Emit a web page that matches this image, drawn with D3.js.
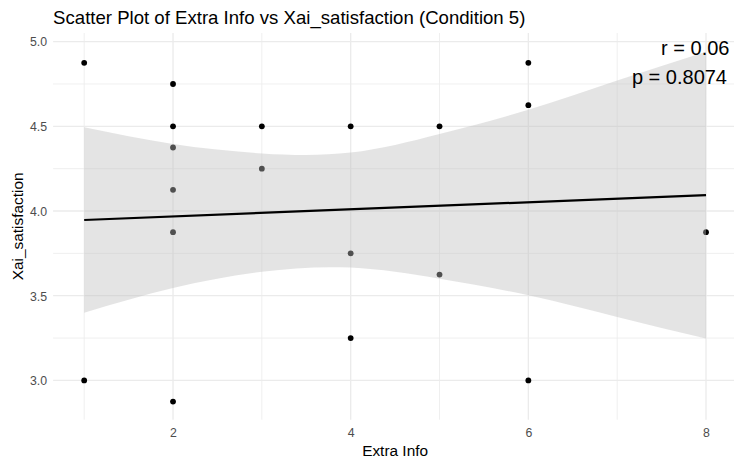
<!DOCTYPE html>
<html>
<head>
<meta charset="utf-8">
<script src="https://cdn.jsdelivr.net/npm/d3@7"></script>
<style>
  html, body { margin: 0; padding: 0; background: #fff; }
  svg { display: block; font-family: "Liberation Sans", Arial, sans-serif; }
</style>
</head>
<body>
<svg id="chart" width="734" height="464"></svg>
<script>
// ---- data ----
const extraInfo    = [1, 1, 2, 2, 2, 2, 2, 2, 3, 3, 4, 4, 4, 5, 5, 6, 6, 6, 8];
const satisfaction = [4.875, 3.0, 4.75, 4.5, 4.375, 4.125, 3.875, 2.875, 4.5, 4.25,
                      4.5, 3.75, 3.25, 4.5, 3.625, 4.875, 4.625, 3.0, 3.875];
// fitted lm line and its 95% band
const fitX      = [1, 8];
const fitY      = [3.947, 4.094];
const bandX     = [1, 2, 3, 4, 5, 6, 7, 8];
const bandUpper = [4.494, 4.395, 4.340, 4.345, 4.455, 4.598, 4.770, 4.940];
const bandLower = [3.400, 3.545, 3.641, 3.666, 3.600, 3.502, 3.374, 3.247];
const xTicks      = [2, 4, 6, 8];
const xMinorTicks = [1, 3, 5, 7];
const yTicks      = [3.0, 3.5, 4.0, 4.5, 5.0];
const yMinorTicks = [3.25, 3.75, 4.25, 4.75];
const titleText = "Scatter Plot of Extra Info vs Xai_satisfaction (Condition 5)";
const xLabel = "Extra Info";
const yLabel = "Xai_satisfaction";
const statR = "r = 0.06";
const statP = "p = 0.8074";

// ---- layout ----
const panel = { left: 53.1, right: 737.1, top: 33, bottom: 419.7 };
const svg = d3.select("#chart");

const x = d3.scaleLinear().domain([0.65, 8.35]).range([panel.left, panel.right]);
const y = d3.scaleLinear().domain([2.768, 5.051]).range([panel.bottom, panel.top]);

const grid = svg.append("g");
// minor grid
grid.selectAll(".vminor").data(xMinorTicks).enter().append("line")
  .attr("x1", d => x(d)).attr("x2", d => x(d))
  .attr("y1", panel.top).attr("y2", panel.bottom)
  .attr("stroke", "#ebebeb").attr("stroke-width", 0.8);
grid.selectAll(".hminor").data(yMinorTicks).enter().append("line")
  .attr("x1", panel.left).attr("x2", panel.right)
  .attr("y1", d => y(d)).attr("y2", d => y(d))
  .attr("stroke", "#ebebeb").attr("stroke-width", 0.8);
// major grid
grid.selectAll(".vmajor").data(xTicks).enter().append("line")
  .attr("x1", d => x(d)).attr("x2", d => x(d))
  .attr("y1", panel.top).attr("y2", panel.bottom)
  .attr("stroke", "#ebebeb").attr("stroke-width", 1.3);
grid.selectAll(".hmajor").data(yTicks).enter().append("line")
  .attr("x1", panel.left).attr("x2", panel.right)
  .attr("y1", d => y(d)).attr("y2", d => y(d))
  .attr("stroke", "#ebebeb").attr("stroke-width", 1.3);

// points
svg.append("g").selectAll("circle")
  .data(extraInfo.map((v, i) => ({ x: v, y: satisfaction[i] })))
  .enter().append("circle")
  .attr("cx", d => x(d.x)).attr("cy", d => y(d.y))
  .attr("r", 2.9).attr("fill", "#000");

// confidence band (drawn over points, like geom_smooth)
const band = bandX.map((v, i) => ({ x: v, lo: bandLower[i], hi: bandUpper[i] }));
svg.append("path")
  .datum(band)
  .attr("d", d3.area().curve(d3.curveNatural)
    .x(d => x(d.x)).y0(d => y(d.lo)).y1(d => y(d.hi)))
  .attr("fill", "rgb(190,190,190)").attr("fill-opacity", 0.42);

// fit line
svg.append("path")
  .datum(fitX.map((v, i) => ({ x: v, y: fitY[i] })))
  .attr("d", d3.line().x(d => x(d.x)).y(d => y(d.y)))
  .attr("fill", "none").attr("stroke", "#000").attr("stroke-width", 2.2);

// axes (labels only, theme_minimal)
const xAxis = d3.axisBottom(x).tickValues(xTicks).tickFormat(d3.format("d")).tickSize(0).tickPadding(0);
const gx = svg.append("g").attr("transform", `translate(0,${panel.bottom})`).call(xAxis);
gx.select(".domain").remove();
gx.selectAll("text").attr("dy", null).attr("y", 17.5)
  .attr("font-size", 12.3).attr("fill", "#4d4d4d").attr("font-family", "Liberation Sans, Arial, sans-serif");

const yAxis = d3.axisLeft(y).tickValues(yTicks).tickFormat(d3.format(".1f")).tickSize(0).tickPadding(0);
const gy = svg.append("g").attr("transform", `translate(${panel.left - 6},0)`).call(yAxis);
gy.select(".domain").remove();
gy.selectAll("text").attr("x", 0).attr("dy", "0.35em")
  .attr("font-size", 12.3).attr("fill", "#4d4d4d").attr("font-family", "Liberation Sans, Arial, sans-serif");

// titles
svg.append("text").attr("x", panel.left).attr("y", 24)
  .attr("font-size", 18.6).attr("fill", "#000").text(titleText);
svg.append("text").attr("x", (panel.left + panel.right) / 2).attr("y", 456)
  .attr("text-anchor", "middle").attr("font-size", 15.4).attr("fill", "#000").text(xLabel);
svg.append("text").attr("transform", `translate(22.5,${(panel.top + panel.bottom) / 2}) rotate(-90)`)
  .attr("text-anchor", "middle").attr("font-size", 15.4).attr("fill", "#000").text(yLabel);

// stats annotation
svg.append("text").attr("x", 729.5).attr("y", 55).attr("text-anchor", "end")
  .attr("font-size", 20).attr("fill", "#000").text(statR);
svg.append("text").attr("x", 727).attr("y", 84).attr("text-anchor", "end")
  .attr("font-size", 20).attr("fill", "#000").text(statP);
</script>
</body>
</html>
